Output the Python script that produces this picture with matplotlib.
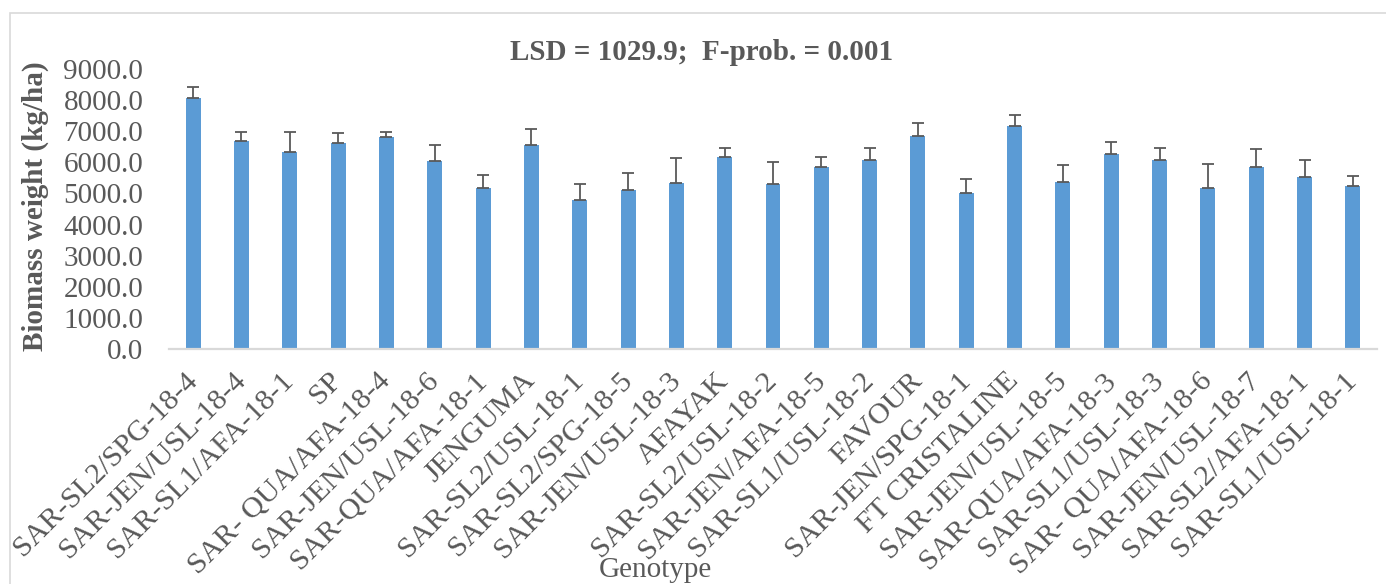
import numpy as np
import matplotlib
matplotlib.use('Agg')
import matplotlib.pyplot as plt
from matplotlib.patches import Rectangle

genotypes = ['SAR-SL2/SPG-18-4', 'SAR-JEN/USL-18-4', 'SAR-SL1/AFA-18-1', 'SP',
             'SAR- QUA/AFA-18-4', 'SAR-JEN/USL-18-6', 'SAR-QUA/AFA-18-1', 'JENGUMA',
             'SAR-SL2/USL-18-1', 'SAR-SL2/SPG-18-5', 'SAR-JEN/USL-18-3', 'AFAYAK',
             'SAR-SL2/USL-18-2', 'SAR-JEN/AFA-18-5', 'SAR-SL1/USL-18-2', 'FAVOUR',
             'SAR-JEN/SPG-18-1', 'FT CRISTALINE', 'SAR-JEN/USL-18-5', 'SAR-QUA/AFA-18-3',
             'SAR-SL1/USL-18-3', 'SAR- QUA/AFA-18-6', 'SAR-JEN/USL-18-7', 'SAR-SL2/AFA-18-1',
             'SAR-SL1/USL-18-1']
biomass = [8080, 6690, 6330, 6630, 6830, 6040, 5190, 6550, 4780, 5100, 5340, 6180, 5300,
           5840, 6080, 6860, 5030, 7180, 5370, 6280, 6060, 5170, 5860, 5520, 5240]
errors = [330, 290, 650, 310, 130, 515, 410, 515, 525, 555, 795, 280, 720,
          330, 375, 395, 450, 345, 535, 365, 400, 770, 580, 545, 310]
yticks = np.arange(0, 9001, 1000)

grey = '#595959'
fs = 21
plt.rcParams['font.family'] = ['Liberation Serif', 'DejaVu Serif']

fig = plt.figure(figsize=(13.86, 5.84), dpi=100)
ax = fig.add_axes([169/1386, 1-349/584, (1377-169)/1386, (349-69)/584])

x = np.arange(len(genotypes))
ax.bar(x, biomass, width=0.31, color='#5b9bd5', zorder=2,
       yerr=[np.zeros(len(errors)), errors],
       error_kw=dict(ecolor=grey, elinewidth=1.3, capsize=4.3, capthick=1.3))

ax.set_xlim(-0.5, len(genotypes) - 0.5)
ax.set_ylim(0, 9000)
ax.set_yticks(yticks)
ax.set_yticklabels(['%.1f' % v for v in yticks], fontsize=fs, color=grey)
ax.set_xticks(x)
ax.set_xticklabels(genotypes, rotation=45, ha='right', va='center',
                   rotation_mode='anchor', fontsize=21.7, color=grey)
ax.tick_params(axis='both', length=0)
ax.tick_params(axis='y', pad=18.5)
ax.tick_params(axis='x', pad=20)
for s in ['top', 'right', 'left']:
    ax.spines[s].set_visible(False)
ax.spines['bottom'].set_color('#d9d9d9')
ax.spines['bottom'].set_linewidth(1.6)

fig.text(702/1386, 1-59.5/584, 'LSD = 1029.9;  F-prob. = 0.001', ha='center',
         va='baseline', fontsize=fs, fontweight='bold', color=grey)
fig.text(35/1386, 1-206/584, 'Biomass weight (kg/ha)', rotation=90, ha='center',
         va='center', fontsize=fs, fontweight='bold', color=grey)
fig.text(655/1386, 1-577/584, 'Genotype', ha='center', va='baseline',
         fontsize=fs, color=grey)

fig.patches.append(Rectangle((9.5/1386, -0.2), 1.2, 1.2 - 12.7/584,
                             transform=fig.transFigure, fill=False,
                             edgecolor='#d9d9d9', linewidth=1.2))

fig.savefig('out.png', dpi=100)
